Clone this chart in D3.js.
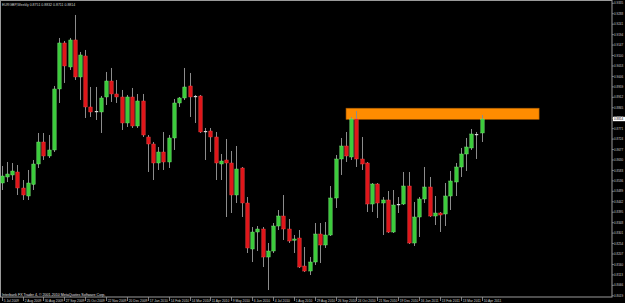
<!DOCTYPE html>
<html><head><meta charset="utf-8">
<script src="https://cdn.jsdelivr.net/npm/d3@7"></script>
<style>html,body{margin:0;padding:0;background:#000;overflow:hidden}svg{display:block}</style>
</head><body>
<script>
const symbolTitle = "EURGBP,Weekly";
const copyright = "Interbank FX Trader 4, \u00a9 2001-2010 MetaQuotes Software Corp.";
const dateLabels = ["5 Jul 2009","2 Aug 2009","30 Aug 2009","27 Sep 2009","25 Oct 2009","22 Nov 2009","20 Dec 2009","17 Jan 2010","14 Feb 2010","14 Mar 2010","11 Apr 2010","9 May 2010","6 Jun 2010","4 Jul 2010","1 Aug 2010","29 Aug 2010","26 Sep 2010","24 Oct 2010","21 Nov 2010","19 Dec 2010","16 Jan 2011","13 Feb 2011","13 Mar 2011","10 Apr 2011"];
const priceTicks = ["0.9335","0.9288","0.9241","0.9194","0.9147","0.9100","0.9053","0.9006","0.8959","0.8912","0.8865","0.8818","0.8771","0.8724","0.8677","0.8630","0.8583","0.8536","0.8489","0.8442","0.8395","0.8348","0.8301","0.8254","0.8207","0.8160","0.8113","0.8066","0.8019"];
const opens = [0.85265,0.85535,0.85625,0.8576,0.8504,0.8468,0.8520,0.8612,0.8711,0.8648,0.8675,0.89495,0.91565,0.90485,0.917,0.90035,0.9098,0.88685,0.88505,0.8846,0.89135,0.89855,0.8927,0.89135,0.87965,0.89135,0.8783,0.88955,0.87335,0.8702,0.86165,0.8666,0.8621,0.8729,0.88865,0.8909,0.8963,0.8918,0.8918,0.87605,0.87605,0.87335,0.8612,0.863,0.86165,0.84725,0.8594,0.84365,0.82295,0.8306,0.83195,0.81935,0.82205,0.8333,0.8378,0.83195,0.827,0.8279,0.8153,0.81305,0.8171,0.8297,0.82475,0.82925,0.8459,0.86345,0.8693,0.86435,0.88145,0.86345,0.86165,0.8432,0.8522,0.84365,0.845,0.8306,0.8432,0.8432,0.8513,0.82565,0.83735,0.84545,0.85085,0.8378,0.83915,0.8387,0.8468,0.8531,0.85985,0.8657,0.8684,0.8747,0.87515];
const highs = [0.8603,0.8621,0.86165,0.86075,0.854,0.8585,0.863,0.87515,0.87515,0.87425,0.8963,0.9179,0.91655,0.9179,0.92825,0.9116,0.9125,0.89585,0.89585,0.8918,0.9026,0.9044,0.899,0.8945,0.89225,0.8954,0.8927,0.8927,0.87425,0.8711,0.86885,0.8756,0.87425,0.89045,0.89135,0.9044,0.90215,0.89225,0.89225,0.8774,0.8774,0.8756,0.8657,0.87245,0.86705,0.8693,0.85985,0.84635,0.83285,0.8333,0.83285,0.82565,0.83465,0.8405,0.84725,0.83645,0.82925,0.8315,0.82385,0.81935,0.83465,0.83465,0.8351,0.8513,0.86525,0.8729,0.8756,0.88235,0.88505,0.87335,0.8621,0.85265,0.85265,0.84635,0.84905,0.8495,0.84635,0.8576,0.8576,0.8441,0.84635,0.85985,0.85535,0.8468,0.8396,0.85265,0.85805,0.86165,0.8684,0.8729,0.87695,0.8756,0.88325];
const lows = [0.8495,0.8531,0.854,0.84725,0.845,0.845,0.8495,0.8594,0.863,0.8639,0.8666,0.88865,0.89765,0.9035,0.899,0.89,0.8819,0.88235,0.881,0.87515,0.88775,0.8891,0.88865,0.8765,0.87785,0.8774,0.8774,0.87335,0.8576,0.854,0.8585,0.8585,0.8594,0.8675,0.88685,0.89,0.88235,0.87965,0.87515,0.863,0.8666,0.854,0.854,0.83735,0.83915,0.84365,0.83735,0.82115,0.8171,0.82205,0.81485,0.8045,0.82115,0.8315,0.827,0.82565,0.82115,0.8144,0.8126,0.81125,0.81575,0.81665,0.8234,0.8288,0.8414,0.85625,0.8621,0.863,0.85985,0.8585,0.8396,0.8396,0.8369,0.82925,0.83015,0.83015,0.83915,0.84275,0.8252,0.8243,0.82835,0.84365,0.83735,0.83375,0.8306,0.8333,0.8405,0.8468,0.85535,0.85805,0.8675,0.86345,0.8711];
const closes = [0.8558,0.8567,0.85805,0.8504,0.84725,0.85265,0.8612,0.8711,0.8648,0.8675,0.89495,0.91565,0.9053,0.917,0.90035,0.91025,0.88685,0.8846,0.88483,0.8909,0.89855,0.8927,0.89135,0.87965,0.89135,0.8783,0.88955,0.87425,0.8702,0.86165,0.8666,0.8621,0.8729,0.88865,0.8909,0.89585,0.89135,0.89158,0.8756,0.87583,0.87335,0.86165,0.86255,0.86165,0.84725,0.85895,0.84365,0.8234,0.8306,0.83195,0.81935,0.82205,0.8333,0.8378,0.83195,0.82655,0.82745,0.81485,0.81305,0.8171,0.8297,0.82475,0.82925,0.8459,0.86345,0.8693,0.8648,0.88145,0.86345,0.8612,0.8432,0.8522,0.84365,0.845,0.8306,0.84275,0.84298,0.8513,0.82565,0.83735,0.84545,0.85085,0.8378,0.83915,0.83825,0.8468,0.85355,0.85985,0.8657,0.86885,0.8747,0.87448,0.88145];
// resistance zone (bar index from/to, price top/bottom)
const zoneBars = [66, 103];
const zonePrices = [0.8863, 0.8813];

const W = 625, H = 303;
const plotRight = 612, plotBottom = 297;
const svg = d3.select("body").append("svg").attr("width", W).attr("height", H)
  .style("background", "#000");

const x = d3.scaleLinear().domain([0, opens.length - 1]).range([1.7, 481.7]);
const y = d3.scaleLinear().domain([+priceTicks[0], +priceTicks[priceTicks.length - 1]]).range([3.3, 295.8]);
const font = "'Liberation Sans', Arial, sans-serif";

// frame
svg.append("rect").attr("x", 0.5).attr("y", 0.5).attr("width", plotRight - 0.5).attr("height", plotBottom - 0.5)
  .attr("fill", "none").attr("stroke", "#9a9a9a").attr("stroke-width", 1);

// zone rectangle
svg.append("rect")
  .attr("x", x(zoneBars[0])).attr("width", x(zoneBars[1]) - x(zoneBars[0]))
  .attr("y", y(zonePrices[0])).attr("height", y(zonePrices[1]) - y(zonePrices[0]))
  .attr("fill", "#FF8C00").attr("stroke", "#a85a00").attr("stroke-width", 0.6);

const data = opens.map((o, i) => ({i, o, h: highs[i], l: lows[i], c: closes[i]}));
const g = svg.append("g");
g.selectAll("line.wick").data(data).join("line")
  .attr("x1", d => Math.round(x(d.i)) + 0.5).attr("x2", d => Math.round(x(d.i)) + 0.5)
  .attr("y1", d => y(d.h)).attr("y2", d => y(d.l))
  .attr("stroke", "#8c8c8c").attr("stroke-width", 1);
g.selectAll("rect.body").data(data).join("rect")
  .attr("x", d => Math.round(x(d.i)) + 0.5 - 1.7).attr("width", 3.4)
  .attr("y", d => y(Math.max(d.o, d.c)))
  .attr("height", d => Math.max(1.2, Math.abs(y(d.o) - y(d.c))))
  .attr("fill", d => Math.abs(y(d.o) - y(d.c)) < 1 ? "#d8d8d8" : (d.c >= d.o ? "#3ccc3c" : "#e0161a"))
  .attr("stroke", d => Math.abs(y(d.o) - y(d.c)) < 1 ? "none" : (d.c >= d.o ? "#7cf07c" : "#ff4a4a"))
  .attr("stroke-width", 0.4);

// price axis
const pa = svg.append("g");
priceTicks.forEach(t => {
  const yy = y(+t);
  pa.append("line").attr("x1", plotRight).attr("x2", plotRight + 1.8).attr("y1", yy).attr("y2", yy)
    .attr("stroke", "#9a9a9a").attr("stroke-width", 0.8);
  pa.append("text").attr("x", plotRight + 2).attr("y", yy + 1.1).text(t)
    .attr("fill", "#d0d0d0").attr("font-size", 3.0).attr("font-family", font);
});
// current price label
const last = data[data.length - 1];
const fmt = d3.format(".4f");
pa.append("rect").attr("x", plotRight + 1).attr("y", y(last.c) - 2.2).attr("width", 12).attr("height", 4.4).attr("fill", "#ffffff");
pa.append("text").attr("x", plotRight + 2).attr("y", y(last.c) + 1.1).text(fmt(last.c))
  .attr("fill", "#000").attr("font-size", 3.0).attr("font-family", font);

// time axis
const ta = svg.append("g");
dateLabels.forEach((lab, k) => {
  const xx = Math.round(x(k * 4)) + 0.5;
  ta.append("line").attr("x1", xx).attr("x2", xx).attr("y1", plotBottom).attr("y2", plotBottom + 4)
    .attr("stroke", "#9a9a9a").attr("stroke-width", 0.8);
  ta.append("text").attr("x", xx + 1.2).attr("y", 301.6).text(lab)
    .attr("fill", "#d0d0d0").attr("font-size", 3.3).attr("font-family", font);
});

// title & copyright
svg.append("text").attr("x", 2).attr("y", 5.6)
  .text(symbolTitle + "  " + [last.o, last.h, last.l, last.c].map(fmt).join(" "))
  .attr("fill", "#d0d0d0").attr("font-size", 3.5).attr("font-family", font);
svg.append("text").attr("x", 2).attr("y", 295.6).text(copyright)
  .attr("fill", "#e0e0e0").attr("font-size", 3.6).attr("font-family", font);
</script>
</body></html>
